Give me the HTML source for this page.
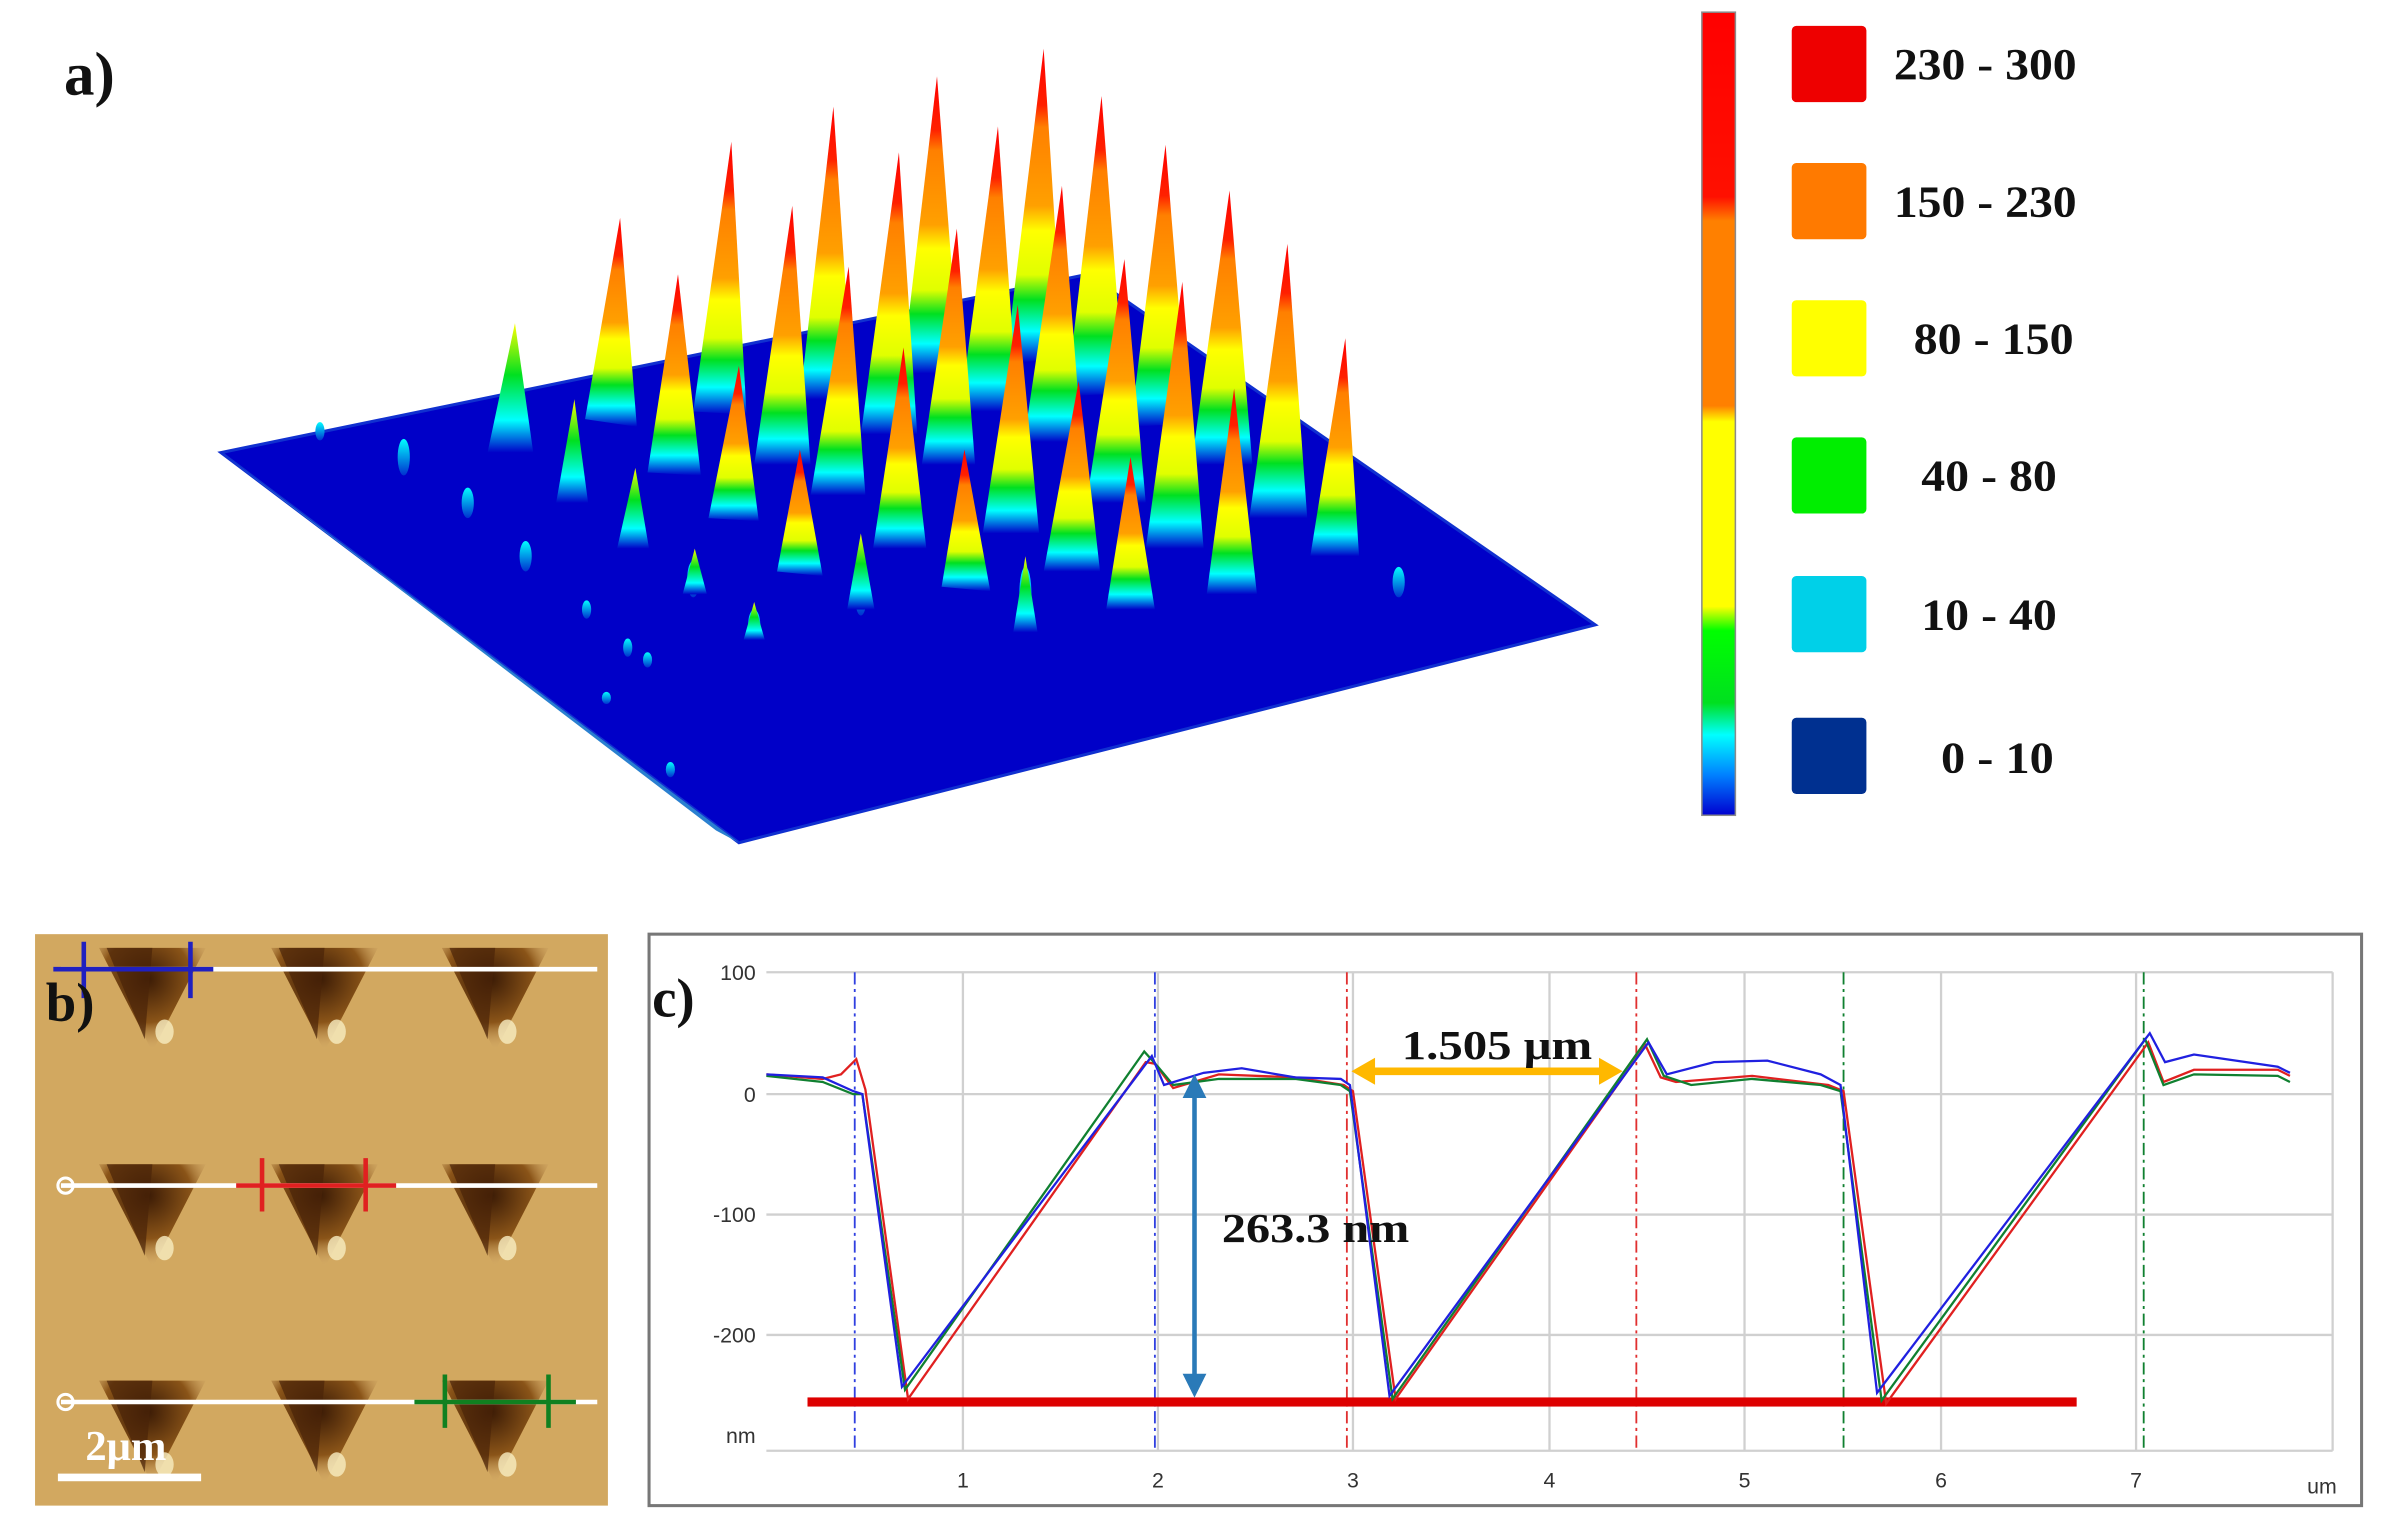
<!DOCTYPE html>
<html><head><meta charset="utf-8"><style>
html,body{margin:0;padding:0;background:#fff;}
svg{display:block;}
.l{font-family:"Liberation Serif",serif;font-weight:bold;fill:#111;}
.t{font-family:"Liberation Sans",sans-serif;font-size:14px;fill:#333;}
</style></head><body>
<svg width="2389" height="1530" viewBox="0 0 1568 1004" preserveAspectRatio="none" xmlns="http://www.w3.org/2000/svg">
<defs>
<linearGradient id="sp" x1="0" y1="0" x2="0" y2="1">
<stop offset="0" stop-color="#ff0000"/><stop offset="0.18" stop-color="#ff2000"/><stop offset="0.25" stop-color="#ff8000"/>
<stop offset="0.5" stop-color="#ffa000"/><stop offset="0.58" stop-color="#ffff00"/><stop offset="0.72" stop-color="#e0ff00"/>
<stop offset="0.8" stop-color="#00e020"/><stop offset="0.9" stop-color="#00ffff"/><stop offset="1" stop-color="#0000c8"/></linearGradient>
<linearGradient id="sm" x1="0" y1="0" x2="0" y2="1">
<stop offset="0" stop-color="#ffff00"/><stop offset="0.4" stop-color="#00e020"/><stop offset="0.75" stop-color="#00ffff"/><stop offset="1" stop-color="#0000c8"/></linearGradient>
<linearGradient id="ti" x1="0" y1="0" x2="0" y2="1">
<stop offset="0" stop-color="#00ffff"/><stop offset="1" stop-color="#0030d0"/></linearGradient>
<linearGradient id="cb" x1="0" y1="0" x2="0" y2="1">
<stop offset="0" stop-color="#ff0000"/><stop offset="0.23" stop-color="#ff1000"/><stop offset="0.26" stop-color="#ff8000"/>
<stop offset="0.49" stop-color="#ff8000"/><stop offset="0.51" stop-color="#ffff00"/><stop offset="0.74" stop-color="#ffff00"/>
<stop offset="0.77" stop-color="#00ff00"/><stop offset="0.86" stop-color="#00e020"/><stop offset="0.9" stop-color="#00ffff"/>
<stop offset="0.95" stop-color="#0080ff"/><stop offset="1" stop-color="#0000d0"/></linearGradient>
<radialGradient id="tr" cx="0.45" cy="0.3" r="0.7">
<stop offset="0" stop-color="#3a1a05"/><stop offset="0.6" stop-color="#8a5418"/><stop offset="1" stop-color="#d8b070" stop-opacity="0"/></radialGradient>
<g id="tri"><polygon points="-35,0 35,0 0,68" fill="url(#tr)"/><polygon points="-30,0 0,0 -5,60" fill="#4a2408" opacity="0.7"/><ellipse cx="8" cy="55" rx="6" ry="8" fill="#f8ecc0" opacity="0.8"/></g>
</defs>

<text class="l" x="42" y="62" font-size="40">a)</text>
<polygon points="145,297 714,180 1047,410 485,553" fill="#0000c8" stroke="#1030d0" stroke-width="2"/>
<polygon points="145,297 485,553 470,545" fill="#2a80d0"/>
<g fill="url(#ti)">
<ellipse cx="265" cy="300" rx="4" ry="12"/><ellipse cx="307" cy="330" rx="4" ry="10"/><ellipse cx="345" cy="365" rx="4" ry="10"/>
<ellipse cx="385" cy="400" rx="3" ry="6"/><ellipse cx="412" cy="425" rx="3" ry="6"/><ellipse cx="455" cy="380" rx="4" ry="12"/>
<ellipse cx="495" cy="410" rx="4" ry="10"/><ellipse cx="918" cy="382" rx="4" ry="10"/><ellipse cx="425" cy="433" rx="3" ry="5"/>
<ellipse cx="440" cy="505" rx="3" ry="5"/><ellipse cx="398" cy="458" rx="3" ry="4"/><ellipse cx="565" cy="390" rx="4" ry="14"/>
<ellipse cx="673" cy="390" rx="4" ry="18"/><ellipse cx="210" cy="283" rx="3" ry="6"/>
</g>
<g fill="url(#sp)">
<polygon points="407,143 384,275 418,280"/><polygon points="480,93 455,270 490,272"/><polygon points="547,70 525,262 560,262"/>
<polygon points="615,50 592,245 630,245"/><polygon points="685,32 660,238 698,236"/>
<polygon points="445,180 425,310 460,312"/><polygon points="520,135 495,305 532,305"/><polygon points="590,100 565,285 602,285"/>
<polygon points="655,83 630,270 668,270"/><polygon points="723,63 700,260 738,258"/>
<polygon points="485,240 465,340 498,342"/><polygon points="557,175 532,325 568,325"/><polygon points="628,150 605,305 640,305"/>
<polygon points="697,122 672,290 710,290"/><polygon points="765,95 742,280 780,278"/>
<polygon points="525,295 510,375 540,378"/><polygon points="593,228 573,360 608,360"/><polygon points="668,200 645,350 682,350"/>
<polygon points="738,170 713,330 752,330"/><polygon points="807,125 782,305 822,305"/>
<polygon points="633,295 618,385 650,388"/><polygon points="708,250 685,375 722,375"/><polygon points="776,185 752,360 790,360"/>
<polygon points="845,160 820,340 858,340"/><polygon points="742,300 726,400 758,400"/><polygon points="810,255 792,390 825,390"/>
<polygon points="883,222 860,365 892,365"/>
</g>
<g fill="url(#sm)">
<polygon points="338,212 320,297 350,297"/><polygon points="377,262 365,330 386,330"/><polygon points="417,307 405,360 426,360"/>
<polygon points="456,360 448,390 464,390"/><polygon points="495,395 488,420 502,420"/><polygon points="565,350 556,400 574,400"/>
<polygon points="673,365 665,415 681,415"/>
</g>

<rect x="1117" y="8" width="22" height="527" fill="url(#cb)" stroke="#8a8a8a" stroke-width="1"/>
<rect x="1176" y="17" width="49" height="50" rx="3" fill="#ee0000"/>
<rect x="1176" y="107" width="49" height="50" rx="3" fill="#ff7a00"/>
<rect x="1176" y="197" width="49" height="50" rx="3" fill="#ffff00"/>
<rect x="1176" y="287" width="49" height="50" rx="3" fill="#00ee00"/>
<rect x="1176" y="378" width="49" height="50" rx="3" fill="#00d0e8"/>
<rect x="1176" y="471" width="49" height="50" rx="3" fill="#003090"/>
<g class="l" font-size="29">
<text x="1243" y="52" textLength="120" lengthAdjust="spacingAndGlyphs">230 - 300</text>
<text x="1243" y="142" textLength="120" lengthAdjust="spacingAndGlyphs">150 - 230</text>
<text x="1256" y="232" textLength="105" lengthAdjust="spacingAndGlyphs">80 - 150</text>
<text x="1261" y="322" textLength="89" lengthAdjust="spacingAndGlyphs">40 - 80</text>
<text x="1261" y="413" textLength="89" lengthAdjust="spacingAndGlyphs">10 - 40</text>
<text x="1274" y="507" textLength="74" lengthAdjust="spacingAndGlyphs">0 - 10</text></g>

<rect x="23" y="613" width="376" height="375" fill="#d2a860"/>
<use href="#tri" x="100" y="622"/><use href="#tri" x="213" y="622"/><use href="#tri" x="325" y="622"/>
<use href="#tri" x="100" y="764"/><use href="#tri" x="213" y="764"/><use href="#tri" x="325" y="764"/>
<use href="#tri" x="100" y="906"/><use href="#tri" x="213" y="906"/><use href="#tri" x="325" y="906"/>
<g stroke="#fff" stroke-width="3"><line x1="40" y1="636" x2="392" y2="636"/><line x1="40" y1="778" x2="392" y2="778"/><line x1="40" y1="920" x2="392" y2="920"/></g>
<circle cx="43" cy="778" r="5" fill="none" stroke="#fff" stroke-width="2"/><circle cx="43" cy="920" r="5" fill="none" stroke="#fff" stroke-width="2"/>
<g stroke="#2020c0" stroke-width="3"><line x1="35" y1="636" x2="140" y2="636"/><line x1="55" y1="618" x2="55" y2="655"/><line x1="125" y1="618" x2="125" y2="655"/></g>
<g stroke="#e02020" stroke-width="3"><line x1="155" y1="778" x2="260" y2="778"/><line x1="172" y1="760" x2="172" y2="795"/><line x1="240" y1="760" x2="240" y2="795"/></g>
<g stroke="#108020" stroke-width="3"><line x1="272" y1="920" x2="378" y2="920"/><line x1="292" y1="902" x2="292" y2="937"/><line x1="360" y1="902" x2="360" y2="937"/></g>
<text class="l" x="30" y="670" font-size="36">b)</text>
<rect x="38" y="967" width="94" height="5" fill="#fff"/>
<text class="l" x="56" y="958" font-size="28" style="fill:#fff">2μm</text>

<rect x="426" y="613" width="1124" height="375" fill="#fff" stroke="#777" stroke-width="2"/>
<g stroke="#d0d0d0" stroke-width="1.5">
<line x1="503" y1="638" x2="1531" y2="638"/><line x1="503" y1="718" x2="1531" y2="718"/><line x1="503" y1="797" x2="1531" y2="797"/>
<line x1="503" y1="876" x2="1531" y2="876"/><line x1="503" y1="952" x2="1531" y2="952"/>
<line x1="632" y1="638" x2="632" y2="952"/><line x1="760" y1="638" x2="760" y2="952"/><line x1="888" y1="638" x2="888" y2="952"/>
<line x1="1017" y1="638" x2="1017" y2="952"/><line x1="1145" y1="638" x2="1145" y2="952"/><line x1="1274" y1="638" x2="1274" y2="952"/>
<line x1="1402" y1="638" x2="1402" y2="952"/><line x1="1531" y1="638" x2="1531" y2="952"/></g>
<g stroke-width="1.2" stroke-dasharray="8,3,2,3">
<line x1="561" y1="638" x2="561" y2="952" stroke="#3040e0"/><line x1="758" y1="638" x2="758" y2="952" stroke="#3040e0"/>
<line x1="884" y1="638" x2="884" y2="952" stroke="#e03030"/><line x1="1074" y1="638" x2="1074" y2="952" stroke="#e03030"/>
<line x1="1210" y1="638" x2="1210" y2="952" stroke="#108030"/><line x1="1407" y1="638" x2="1407" y2="952" stroke="#108030"/></g>
<g class="t" text-anchor="end"><text x="496" y="643">100</text><text x="496" y="723">0</text><text x="496" y="802">-100</text><text x="496" y="881">-200</text><text x="496" y="947">nm</text></g>
<g class="t" text-anchor="middle"><text x="632" y="976">1</text><text x="760" y="976">2</text><text x="888" y="976">3</text><text x="1017" y="976">4</text><text x="1145" y="976">5</text><text x="1274" y="976">6</text><text x="1402" y="976">7</text><text x="1524" y="980">um</text></g>
<rect x="530" y="917" width="833" height="6" fill="#dd0000"/>
<g fill="none" stroke-width="1.5">
<polyline stroke="#e02020" points="503,705 540,708 552,705 562,695 568,715 596,918 752,697 758,698 770,714 800,705 850,707 882,712 888,716 916,918 1080,686 1090,707 1100,710 1150,706 1200,712 1210,716 1238,921 1410,684 1420,710 1440,702 1495,702 1503,706"/>
<polyline stroke="#108030" points="503,706 540,710 560,718 566,718 594,912 751,690 760,700 770,712 800,708 850,708 880,712 886,716 914,918 1081,682 1092,706 1110,712 1150,708 1195,712 1208,716 1235,919 1408,682 1420,712 1440,705 1495,706 1503,710"/>
<polyline stroke="#2020e0" points="503,705 540,707 560,716 566,718 592,910 756,693 764,712 790,704 815,701 850,707 880,708 886,712 912,916 1082,684 1094,705 1125,697 1160,696 1195,705 1208,712 1232,914 1411,678 1421,697 1440,692 1495,700 1503,704"/>
</g>
<g fill="#2a7ab8" stroke="#2a7ab8"><line x1="784" y1="718" x2="784" y2="905" stroke-width="3"/>
<polygon points="777,720 791,720 784,706"/><polygon points="777,902 791,902 784,916"/></g>
<g fill="#ffb800" stroke="#ffb800"><line x1="900" y1="703" x2="1052" y2="703" stroke-width="5"/>
<polygon points="902,695 902,711 888,703"/><polygon points="1050,695 1050,711 1064,703"/></g>
<text class="l" x="920" y="695" font-size="27" textLength="125" lengthAdjust="spacingAndGlyphs">1.505 μm</text>
<text class="l" x="802" y="815" font-size="27" textLength="123" lengthAdjust="spacingAndGlyphs">263.3 nm</text>
<text class="l" x="428" y="667" font-size="36">c)</text>
</svg>
</body></html>
